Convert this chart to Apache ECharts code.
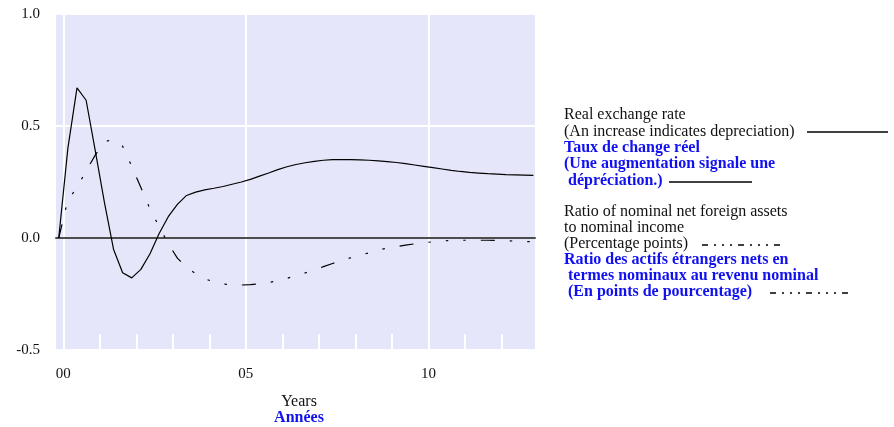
<!DOCTYPE html>
<html>
<head>
<meta charset="utf-8">
<script src="https://cdn.jsdelivr.net/npm/echarts@6/dist/echarts.min.js"></script>
<style>
html,body{margin:0;padding:0;background:#fff;}
#c{width:894px;height:427px;}
</style>
</head>
<body>
<div id="c"></div>
<script>
// Quarter positions (years since 2000)
var quarters = [-0.125,0.125,0.375,0.625,0.875,1.125,1.375,1.625,1.875,2.125,2.375,2.625,2.875,3.125,3.375,3.625,3.875,4.125,4.375,4.625,4.875,5.125,5.375,5.625,5.875,6.125,6.375,6.625,6.875,7.125,7.375,7.625,7.875,8.125,8.375,8.625,8.875,9.125,9.375,9.625,9.875,10.125,10.375,10.625,10.875,11.125,11.375,11.625,11.875,12.125,12.375,12.625,12.875];
// Real exchange rate
var rer = [0,0.40,0.67,0.615,0.39,0.16,-0.05,-0.155,-0.178,-0.14,-0.07,0.02,0.095,0.15,0.19,0.205,0.215,0.222,0.23,0.24,0.25,0.262,0.276,0.29,0.305,0.318,0.328,0.336,0.342,0.347,0.35,0.35,0.35,0.349,0.347,0.344,0.341,0.337,0.332,0.326,0.32,0.314,0.308,0.302,0.297,0.293,0.29,0.287,0.285,0.283,0.282,0.281,0.28];
// Ratio of nominal net foreign assets to nominal income
var nfa = [0,0.17,0.225,0.30,0.37,0.43,0.44,0.41,0.32,0.225,0.13,0.05,-0.025,-0.09,-0.13,-0.16,-0.182,-0.196,-0.205,-0.209,-0.21,-0.208,-0.204,-0.199,-0.19,-0.18,-0.169,-0.156,-0.142,-0.128,-0.114,-0.1,-0.088,-0.077,-0.066,-0.054,-0.045,-0.038,-0.032,-0.026,-0.021,-0.017,-0.013,-0.011,-0.01,-0.01,-0.01,-0.01,-0.011,-0.012,-0.014,-0.016,-0.017];
var majorYears = [0,5,10];
var minorYears = [0,1,2,3,4,5,6,7,8,9,10,11,12];
var yearLabels = {0:'00',5:'05',10:'10'};
var legendLines = [
  {t:'Real exchange rate', b:false},
  {t:'(An increase indicates depreciation)', b:false},
  {t:'Taux de change réel', b:true},
  {t:'(Une augmentation signale une', b:true},
  {t:' dépréciation.)', b:true},
  {t:'Ratio of nominal net foreign assets', b:false},
  {t:'to nominal income', b:false},
  {t:'(Percentage points)', b:false},
  {t:'Ratio des actifs étrangers nets en', b:true},
  {t:' termes nominaux au revenu nominal', b:true},
  {t:' (En points de pourcentage)', b:true}
];
var legendY = [115,132,148,164,181,212,228,244,260,276,292];

var FONT = '"Liberation Serif", "Times New Roman", serif';
var BLUE = '#1010f0';
var DASH = [14,15,2.5,15,2.5,15,2.5,15];
var LDASH = [6,6,2,6,2,6,2,6];

var chart = echarts.init(document.getElementById('c'), null, {renderer:'canvas'});
var data1 = quarters.map(function(q,i){return [q, rer[i]];});
var data2 = quarters.map(function(q,i){return [q, nfa[i]];});

var graphics = [];
legendLines.forEach(function(l,i){
  graphics.push({type:'text', x:564, y:legendY[i], style:{text:l.t, fill:l.b?BLUE:'#111', verticalAlign:'middle', font:(l.b?'bold ':'')+'16px '+FONT}});
});
graphics.push({type:'line', shape:{x1:807,y1:132,x2:888,y2:132}, style:{stroke:'#000', lineWidth:1.5}});
graphics.push({type:'line', shape:{x1:669,y1:182,x2:752,y2:182}, style:{stroke:'#000', lineWidth:1.5}});
graphics.push({type:'line', shape:{x1:702,y1:245,x2:783,y2:245}, style:{stroke:'#000', lineWidth:1.5, lineDash:LDASH}});
graphics.push({type:'line', shape:{x1:770,y1:293,x2:852,y2:293}, style:{stroke:'#000', lineWidth:1.5, lineDash:LDASH}});
graphics.push({type:'text', x:299, y:402, style:{text:'Years', fill:'#111', align:'center', verticalAlign:'middle', font:'16px '+FONT}});
graphics.push({type:'text', x:299, y:418, style:{text:'Années', fill:BLUE, align:'center', verticalAlign:'middle', font:'bold 16px '+FONT}});

chart.setOption({
  animation:false,
  backgroundColor:'#fff',
  grid:{left:56, right:359, top:14, bottom:77, show:true, backgroundColor:'#E6E6FA', borderWidth:0},
  xAxis:[
    {type:'value', min:-0.2, max:12.92, position:'bottom', z:3,
     axisLine:{show:true, onZero:true, lineStyle:{color:'#4d4d4d', width:2}},
     axisTick:{show:false, customValues:majorYears},
     axisLabel:{show:false},
     splitLine:{show:true, lineStyle:{color:'#ffffff', width:2}}},
    {type:'value', min:-0.2, max:12.92, position:'bottom',
     axisLine:{show:false, onZero:false},
     axisTick:{show:true, inside:true, length:16, customValues:minorYears, lineStyle:{color:'#ffffff', width:2}},
     axisLabel:{show:true, customValues:majorYears, margin:17, color:'#111', fontFamily:FONT, fontSize:15,
       formatter:function(v){return yearLabels[Math.round(v)] || '';}},
     splitLine:{show:false}}
  ],
  yAxis:{type:'value', min:-0.5, max:1.0, interval:0.5,
    axisLine:{show:false}, axisTick:{show:false},
    axisLabel:{margin:16, color:'#111', fontFamily:FONT, fontSize:15, formatter:function(v){return v.toFixed(1);}},
    splitLine:{show:true, lineStyle:{color:'#ffffff', width:2}}},
  series:[
    {type:'line', name:'rer', xAxisIndex:0, data:data1, showSymbol:false, symbol:'none',
     lineStyle:{color:'#000', width:1.2}},
    {type:'line', name:'nfa', xAxisIndex:0, data:data2, showSymbol:false, symbol:'none',
     lineStyle:{color:'#000', width:1.2, type:DASH}}
  ],
  graphic:graphics
});
</script>
</body>
</html>
